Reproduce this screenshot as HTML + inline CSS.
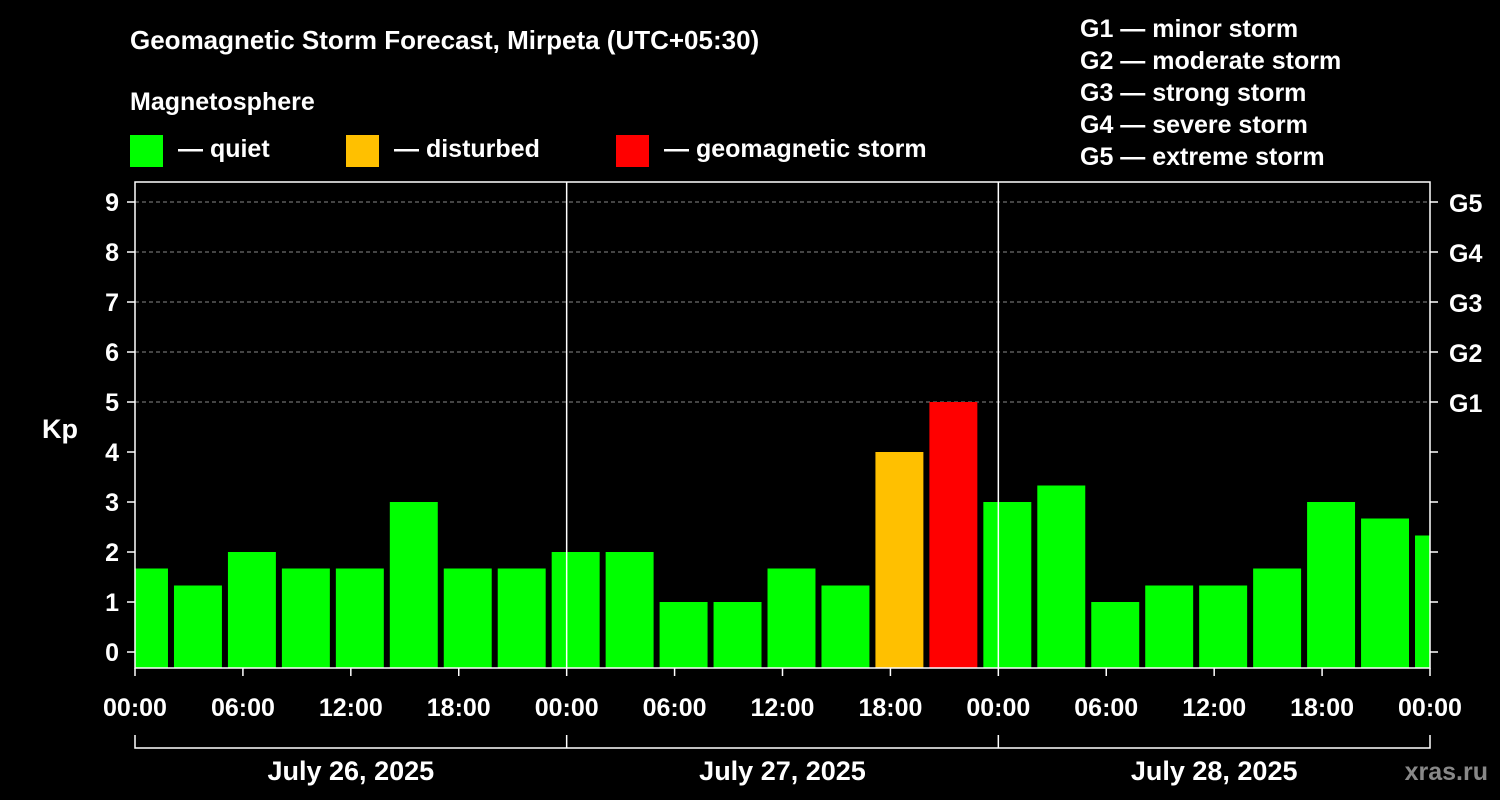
<!DOCTYPE html>
<html><head><meta charset="utf-8"><style>
body{margin:0;background:#000;}
svg{display:block;font-family:"Liberation Sans",sans-serif;font-weight:bold;}
</style></head><body>
<svg width="1500" height="800" viewBox="0 0 1500 800">
<rect x="0" y="0" width="1500" height="800" fill="#000"/>
<text x="130" y="49" fill="#fff" font-size="26">Geomagnetic Storm Forecast, Mirpeta (UTC+05:30)</text>
<text x="130" y="110" fill="#fff" font-size="25">Magnetosphere</text>
<g>
<rect x="130" y="135" width="33" height="32" fill="#00ff00"/>
<text x="178" y="157" fill="#fff" font-size="25">— quiet</text>
<rect x="346" y="135" width="33" height="32" fill="#ffc000"/>
<text x="394" y="157" fill="#fff" font-size="25">— disturbed</text>
<rect x="616" y="135" width="33" height="32" fill="#ff0000"/>
<text x="664" y="157" fill="#fff" font-size="25">— geomagnetic storm</text>
</g>
<g fill="#fff" font-size="25">
<text x="1080" y="37">G1 — minor storm</text>
<text x="1080" y="69">G2 — moderate storm</text>
<text x="1080" y="101">G3 — strong storm</text>
<text x="1080" y="133">G4 — severe storm</text>
<text x="1080" y="165">G5 — extreme storm</text>
</g>
<text x="42" y="438" fill="#fff" font-size="27">Kp</text>
<text x="1488" y="780" fill="#888" font-size="25" text-anchor="end">xras.ru</text>
<defs><clipPath id="pc"><rect x="135" y="182" width="1295" height="486"/></clipPath></defs>
<g id="grid"></g>
<g id="bars" clip-path="url(#pc)"></g>
<g id="axes"></g>
</svg>
<script>
const kpValues=[1.67,1.33,2,1.67,1.67,3,1.67,1.67,2,2,1,1,1.67,1.33,4,5,3,3.33,1,1.33,1.33,1.67,3,2.67,2.33];
const binStartHours=[-1,2,5,8,11,14,17,20,23,26,29,32,35,38,41,44,47,50,53,56,59,62,65,68,71];
const yTicks=[0,1,2,3,4,5,6,7,8,9];
const gLabels=["G1","G2","G3","G4","G5"];
const xTickLabels=["00:00","06:00","12:00","18:00","00:00","06:00","12:00","18:00","00:00","06:00","12:00","18:00","00:00"];
const dayLabels=["July 26, 2025","July 27, 2025","July 28, 2025"];
const NS="http://www.w3.org/2000/svg";
const L=135,R=1430,T=182,B=668;
const xs=h=>L+h*(R-L)/72;
const ys=k=>652-50*k;
function mk(tag,attrs,parent){const e=document.createElementNS(NS,tag);for(const k in attrs)e.setAttribute(k,attrs[k]);parent.appendChild(e);return e;}
const grid=document.getElementById('grid'),bars=document.getElementById('bars'),axes=document.getElementById('axes');
[5,6,7,8,9].forEach(k=>{const l=mk('line',{x1:L,x2:R,y1:ys(k),y2:ys(k),stroke:'#888','stroke-dasharray':'4,3','stroke-width':1},grid);

});
kpValues.forEach((v,i)=>{const x0=xs(binStartHours[i])+3,x1=xs(binStartHours[i]+3)-3;
const c=v>=5?'#ff0000':(v>=4?'#ffc000':'#00ff00');
const r=mk('rect',{x:x0,y:ys(v),width:x1-x0,height:B-ys(v),fill:c},bars);

});
[24,48].forEach(h=>{const l=mk('line',{x1:xs(h),x2:xs(h),y1:T,y2:B,stroke:'#fff','stroke-width':1.5},axes);

});
const fr=mk('rect',{x:L,y:T,width:R-L,height:B-T,fill:'none',stroke:'#fff','stroke-width':1.5},axes);


yTicks.forEach(k=>{const y=ys(k);
mk('line',{x1:L-8,x2:L,y1:y,y2:y,stroke:'#fff','stroke-width':1.5},axes);
mk('line',{x1:R,x2:R+8,y1:y,y2:y,stroke:'#fff','stroke-width':1.5},axes);
const t=mk('text',{x:L-16,y:y+9,fill:'#fff','font-size':25,'text-anchor':'end'},axes);t.textContent=k;


if(k>=5){const g=mk('text',{x:R+19,y:y+10,fill:'#fff','font-size':25},axes);g.textContent=gLabels[k-5];

}});
xTickLabels.forEach((s,i)=>{const x=xs(i*6);
mk('line',{x1:x,x2:x,y1:B,y2:B+8,stroke:'#fff','stroke-width':1.5},axes);
const t=mk('text',{x:x,y:716,fill:'#fff','font-size':25,'text-anchor':'middle'},axes);t.textContent=s;

});
const br=mk('path',{d:`M${L},735V748H${R}V735M${xs(24)},735V748M${xs(48)},735V748`,fill:'none',stroke:'#fff','stroke-width':1.5},axes);


dayLabels.forEach((s,i)=>{const t=mk('text',{x:xs(i*24+12),y:780,fill:'#fff','font-size':27,'text-anchor':'middle'},axes);t.textContent=s;

});
</script>
</body></html>
